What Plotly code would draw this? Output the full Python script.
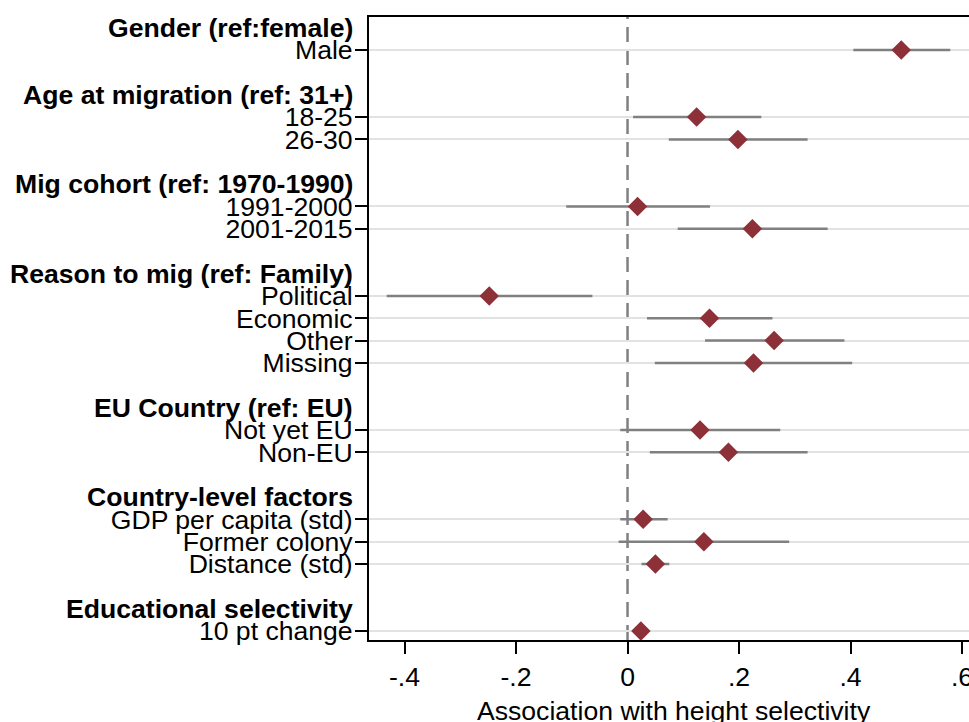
import plotly.graph_objects as go

# ---- data ----
group_headers = [
    "Gender (ref:female)",
    "Age at migration (ref: 31+)",
    "Mig cohort (ref: 1970-1990)",
    "Reason to mig (ref: Family)",
    "EU Country (ref: EU)",
    "Country-level factors",
    "Educational selectivity",
]
group_items = [
    ["Male"],
    ["18-25", "26-30"],
    ["1991-2000", "2001-2015"],
    ["Political", "Economic", "Other", "Missing"],
    ["Not yet EU", "Non-EU"],
    ["GDP per capita (std)", "Former colony", "Distance (std)"],
    ["10 pt change"],
]
coef = [0.491, 0.124, 0.198, 0.018, 0.224, -0.248, 0.147, 0.263, 0.226,
        0.130, 0.181, 0.028, 0.137, 0.050, 0.024]
ci_lo = [0.405, 0.010, 0.074, -0.110, 0.090, -0.432, 0.035, 0.139, 0.049,
         -0.013, 0.040, -0.013, -0.016, 0.025, 0.018]
ci_hi = [0.579, 0.240, 0.323, 0.148, 0.359, -0.063, 0.260, 0.389, 0.403,
         0.274, 0.323, 0.072, 0.290, 0.075, 0.030]
x_tickvals = [-0.4, -0.2, 0, 0.2, 0.4, 0.6]
x_ticktext = ["-.4", "-.2", "0", ".2", ".4", ".6"]
x_title = "Association with height selectivity"

# ---- layout positions (row slots) ----
header_pos, item_pos, item_labels = [], [], []
slot = 0
for h, items in zip(group_headers, group_items):
    header_pos.append(slot)
    slot += 1
    for it in items:
        item_pos.append(slot)
        item_labels.append(it)
        slot += 1
    slot += 1  # gap

FONT = "Liberation Sans, Arial, Helvetica, sans-serif"
FS = 26.6

ci_x, ci_y = [], []
for lo, hi, y in zip(ci_lo, ci_hi, item_pos):
    ci_x += [lo, hi, None]
    ci_y += [y, y, None]

fig = go.Figure()
fig.add_trace(go.Scatter(x=ci_x, y=ci_y, mode="lines",
                         line=dict(color="#808080", width=2.5),
                         hoverinfo="skip", showlegend=False))
fig.add_trace(go.Scatter(x=coef, y=item_pos, mode="markers",
                         marker=dict(symbol="diamond", size=15, color="#8e3038",
                                     line=dict(width=0)),
                         showlegend=False))

fig.add_shape(type="line", x0=0, x1=0, xref="x", yref="paper", y0=0, y1=1,
              line=dict(color="#808080", width=2.5, dash="15px,8px"), layer="between")

for h, p in zip(group_headers, header_pos):
    fig.add_annotation(text="<b>%s</b>" % h, xref="paper", yref="y", x=0, y=p,
                       xanchor="right", yanchor="middle", xshift=-14, showarrow=False,
                       font=dict(family=FONT, size=FS, color="black"))

# x-axis title
fig.add_annotation(text=x_title, xref="paper", yref="paper", x=0.5, y=0,
                   xanchor="center", yanchor="middle", xshift=5, yshift=-71,
                   showarrow=False, font=dict(family=FONT, size=FS, color="black"))

fig.update_layout(
    width=969, height=722,
    margin=dict(l=369, r=0, t=17, b=82),
    paper_bgcolor="white", plot_bgcolor="white",
    font=dict(family=FONT, size=FS, color="black"),
    xaxis=dict(range=[-0.4637, 0.6125], tickvals=x_tickvals, ticktext=x_ticktext,
               ticks="outside", ticklen=12, tickwidth=1.5, tickcolor="black",
               showline=True, mirror=True, linecolor="black", linewidth=2,
               showgrid=False, zeroline=False, ticklabeloverflow="allow",
               tickfont=dict(size=FS), automargin=False),
    yaxis=dict(range=[27.4, -0.48], tickvals=item_pos, ticktext=item_labels,
               ticks="outside", ticklen=12, tickwidth=1.5, tickcolor="black",
               showline=True, mirror=False, linecolor="black", linewidth=2,
               showgrid=True, gridcolor="#e2e2e2", gridwidth=2, zeroline=False,
               ticklabelstandoff=-3,
               tickfont=dict(size=FS), automargin=False),
)

fig.write_html("out.html")
